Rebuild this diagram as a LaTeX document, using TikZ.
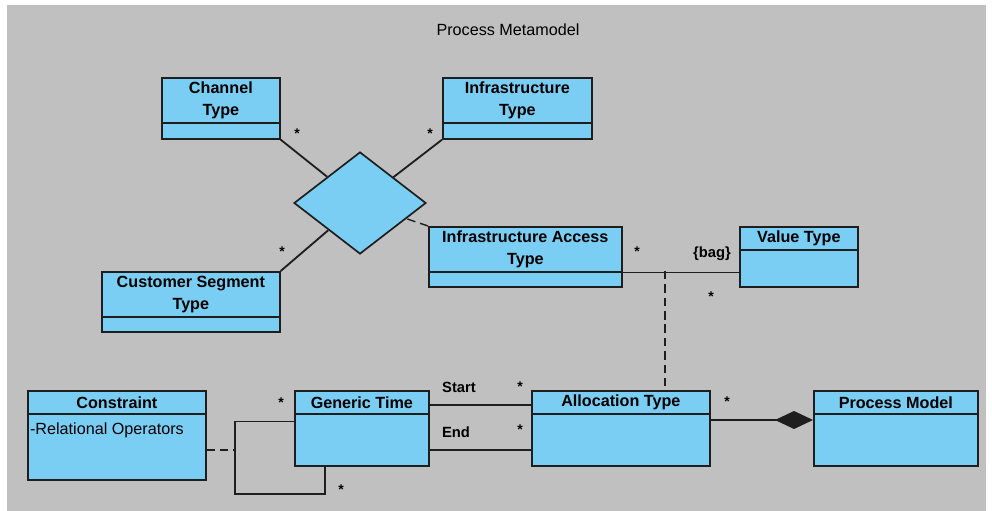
\documentclass[tikz,border=0pt]{standalone}
\usepackage{fontspec}
\setmainfont{Liberation Sans}
\usetikzlibrary{shapes.geometric,arrows.meta}
\newlength\pxu
\setlength\pxu{0.025cm}
\definecolor{umlfill}{HTML}{7ACEF4}
\definecolor{umlback}{HTML}{C0C0C0}
\definecolor{umlline}{HTML}{1E1E1E}
\begin{document}
\begin{tikzpicture}[x=0.025cm, y=-0.025cm]
      \tikzset{
        classbox/.style={draw=umlline, fill=umlfill, line width=1.2pt, inner sep=0pt},
        classname/.style={draw=umlline, line width=1.2pt, inner sep=1pt, align=center,
          font=\fontsize{11.5}{15.6}\selectfont\bfseries},
        attrtext/.style={inner xsep=2pt, inner ysep=1pt, anchor=base west, font=\fontsize{11.5}{14}\selectfont},
        mult/.style={inner sep=0pt, yshift=-2pt, font=\fontsize{10}{12}\selectfont\bfseries},
        rolename/.style={inner sep=0pt, font=\fontsize{10.5}{12}\selectfont\bfseries},
        assoc/.style={draw=umlline, line width=1pt},
        classdash/.style={dash pattern=on 6pt off 3.5pt},
      }

      \useasboundingbox (0,0) rectangle (992,511);
      \fill[white] (0,0) rectangle (992,511);
      \fill[umlback] (7,5) rectangle (986,511);
      \node[font=\fontsize{11.5}{14}\selectfont] (title) at (508,30) {Process Metamodel};

      % classes
      \node[classbox, minimum width=118\pxu, minimum height=61\pxu, anchor=north west] (chan) at (161,77) {};
      \node[classname, minimum width=118\pxu, minimum height=45\pxu, anchor=north west] (chan-t) at (chan.north west) {Channel\\Type};
      \node[classbox, minimum width=149\pxu, minimum height=61\pxu, anchor=north west] (infra) at (442,77) {};
      \node[classname, minimum width=149\pxu, minimum height=45\pxu, anchor=north west] (infra-t) at (infra.north west) {Infrastructure\\Type};
      \node[classbox, minimum width=178\pxu, minimum height=60\pxu, anchor=north west] (cust) at (101,271) {};
      \node[classname, minimum width=178\pxu, minimum height=45\pxu, anchor=north west] (cust-t) at (cust.north west) {Customer Segment\\Type};
      \node[classbox, minimum width=193\pxu, minimum height=60\pxu, anchor=north west] (iat) at (428,226) {};
      \node[classname, minimum width=193\pxu, minimum height=45\pxu, anchor=north west] (iat-t) at (iat.north west) {Infrastructure Access\\Type};
      \node[classbox, minimum width=118\pxu, minimum height=60\pxu, anchor=north west] (val) at (739,226) {};
      \node[classname, minimum width=118\pxu, minimum height=23\pxu, anchor=north west] (val-t) at (val.north west) {Value Type};
      \node[classbox, minimum width=178\pxu, minimum height=89\pxu, anchor=north west] (cons) at (27,390) {};
      \node[classname, minimum width=178\pxu, minimum height=23\pxu, anchor=north west] (cons-t) at (cons.north west) {Constraint};
      \node[attrtext] (cons-a) at ([yshift=-20\pxu]cons-t.south west) {-Relational Operators};
      \node[classbox, minimum width=134\pxu, minimum height=75\pxu, anchor=north west] (gt) at (294,390) {};
      \node[classname, minimum width=134\pxu, minimum height=23\pxu, anchor=north west] (gt-t) at (gt.north west) {Generic Time};
      \node[classbox, minimum width=178\pxu, minimum height=75\pxu, anchor=north west] (alloc) at (531,390) {};
      \node[classname, minimum width=178\pxu, minimum height=23\pxu, anchor=north west] (alloc-t) at (alloc.north west) {Allocation Type};
      \node[classbox, minimum width=164\pxu, minimum height=75\pxu, anchor=north west] (pm) at (813,390) {};
      \node[classname, minimum width=164\pxu, minimum height=23\pxu, anchor=north west] (pm-t) at (pm.north west) {Process Model};

      % n-ary association
      \node[diamond, draw=umlline, fill=umlfill, line width=1.2pt, inner sep=0pt,
            minimum width=132\pxu, minimum height=102\pxu] (rel) at (360,203) {};
      \draw[assoc, line width=1.3pt] (chan.south east) -- (rel);
      \draw[assoc, line width=1.3pt] (infra.south west) -- (rel);
      \draw[assoc, line width=1.3pt] (cust.north east) -- (rel);
      \draw[assoc, classdash] (iat.north west) -- (rel);

      \draw[assoc] (iat-t.south east) -- (iat-t.south east -| val.west);
      \coordinate (bagc) at (665,271);
      \draw[assoc, classdash] (bagc) -- (bagc |- alloc.north);

      % generic time
      \coordinate (loopl) at (235,494);
      \coordinate (loopm) at (235,450);
      \draw[assoc] ([yshift=-7\pxu]gt-t.south west) -| (loopl) -| ([xshift=-37\pxu]gt.south);
      \draw[assoc, classdash] (cons.east |- loopm) -- (loopm);
      \draw[assoc] ([yshift=-15\pxu]gt.north east) -- ([yshift=-15\pxu]alloc.north west);
      \draw[assoc] ([yshift=-60\pxu]gt.north east) -- ([yshift=-60\pxu]alloc.north west);
      \draw[assoc, -{Diamond[length=27pt, width=12.8pt]}] ([yshift=-30\pxu]alloc.north east) -- ([yshift=-30\pxu]pm.north west);

      % multiplicities and roles
      \node[mult] (m1) at (297,131) {*};
      \node[mult] (m2) at (430,131) {*};
      \node[mult] (m3) at (282,249) {*};
      \node[mult] (m4) at (637,249) {*};
      \node[rolename] (bag) at (712,254) {\{bag\}};
      \node[mult] (m5) at (711,294) {*};
      \node[mult] (m6) at (281,400) {*};
      \node[mult] (m7) at (341,487) {*};
      \node[mult] (m8) at (520,384) {*};
      \node[mult] (m9) at (520,427) {*};
      \node[mult] (m10) at (727,399) {*};
      \node[rolename] (start) at (459,387) {Start};
      \node[rolename] (end) at (456,432) {End};
\end{tikzpicture}
\end{document}
